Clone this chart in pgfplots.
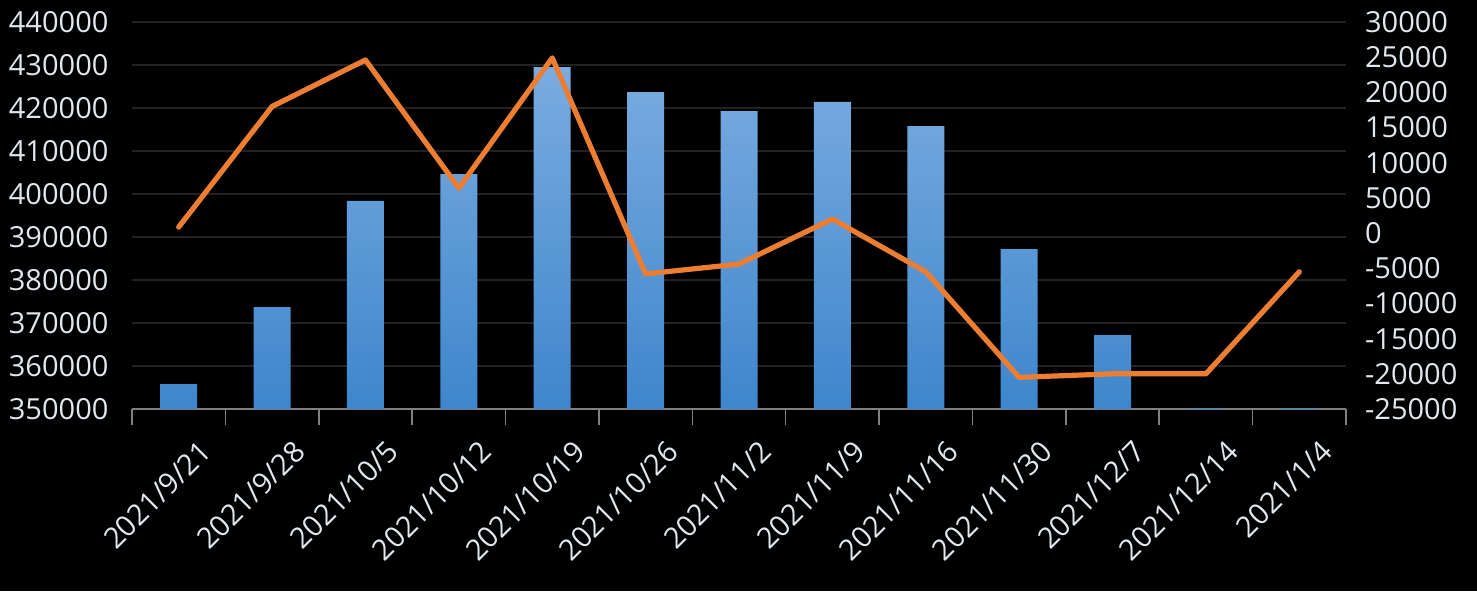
\documentclass[border=0pt]{standalone}
\usepackage{pgfplots}
\pgfplotsset{compat=1.18}
\usepackage{fontspec}
\setmainfont{Open Sans}
\definecolor{lbl}{RGB}{225,231,238}
\definecolor{gridc}{RGB}{34,34,34}
\definecolor{axc}{RGB}{128,128,128}
\definecolor{bartop}{RGB}{122,172,224}
\definecolor{barbot}{RGB}{62,134,204}
\definecolor{lineor}{RGB}{237,125,49}
\begin{document}
\begin{tikzpicture}
\fill[black] (-66pt,-91pt) rectangle (672.5pt,204.5pt);
\begin{axis}[
  scale only axis, width=607pt, height=193.5pt,
  xmin=-0.5, xmax=12.5, ymin=0, ymax=90000,
  axis x line*=bottom, axis y line*=left,
  y axis line style={draw=none},
  x axis line style={draw=axc, line width=0.8pt, -},
  xtick={0,...,12},
  xticklabels={2021/9/21,2021/9/28,2021/10/5,2021/10/12,2021/10/19,2021/10/26,2021/11/2,2021/11/9,2021/11/16,2021/11/30,2021/12/7,2021/12/14,2021/1/4},
  major x tick style={draw=none},
  minor xtick={-0.5,0.5,...,12.5},
  minor x tick style={draw=axc, line width=0.8pt},
  minor tick length=8pt,
  tick align=outside,
  ytick={0,10000,...,90000},
  yticklabels={350000,360000,370000,380000,390000,400000,410000,420000,430000,440000},
  scaled y ticks=false,
  major y tick style={draw=none},
  ymajorgrids, grid style={draw=gridc, line width=0.7pt},
  ticklabel style={font=\fontsize{14.5}{16}\selectfont, text=lbl},
  xticklabel style={rotate=45, anchor=north east, xshift=3pt, yshift=-11pt},
  yticklabel style={xshift=-4pt},
  y filter/.expression={y-350000},
]
\addplot[ybar, bar width=18.5pt, draw=none, shading=axis, top color=bartop, bottom color=barbot]
  coordinates {(0,355800) (1,373700) (2,398400) (3,404650) (4,429500) (5,423700) (6,419300) (7,421400) (8,415800) (9,387200) (10,367200) (11,350150) (12,350150)};
\end{axis}
\begin{axis}[
  scale only axis, width=607pt, height=193.5pt,
  xmin=-0.5, xmax=12.5, ymin=-25000, ymax=30000,
  axis x line=none, axis y line*=right,
  y axis line style={draw=none},
  ytick={-25000,-20000,...,30000},
  major y tick style={draw=none},
  scaled y ticks=false,
  /pgf/number format/assume math mode=true,
  /pgf/number format/1000 sep={},
  ticklabel style={font=\fontsize{14.5}{16}\selectfont, text=lbl},
  yticklabel style={xshift=6pt},
]
\addplot[lineor, line width=2.6pt, line join=round, line cap=round, mark=none]
  coordinates {(0,850) (1,18000) (2,24600) (3,6400) (4,24900) (5,-5800) (6,-4400) (7,2000) (8,-5500) (9,-20500) (10,-20000) (11,-20000) (12,-5500)};
\end{axis}
\end{tikzpicture}
\end{document}
